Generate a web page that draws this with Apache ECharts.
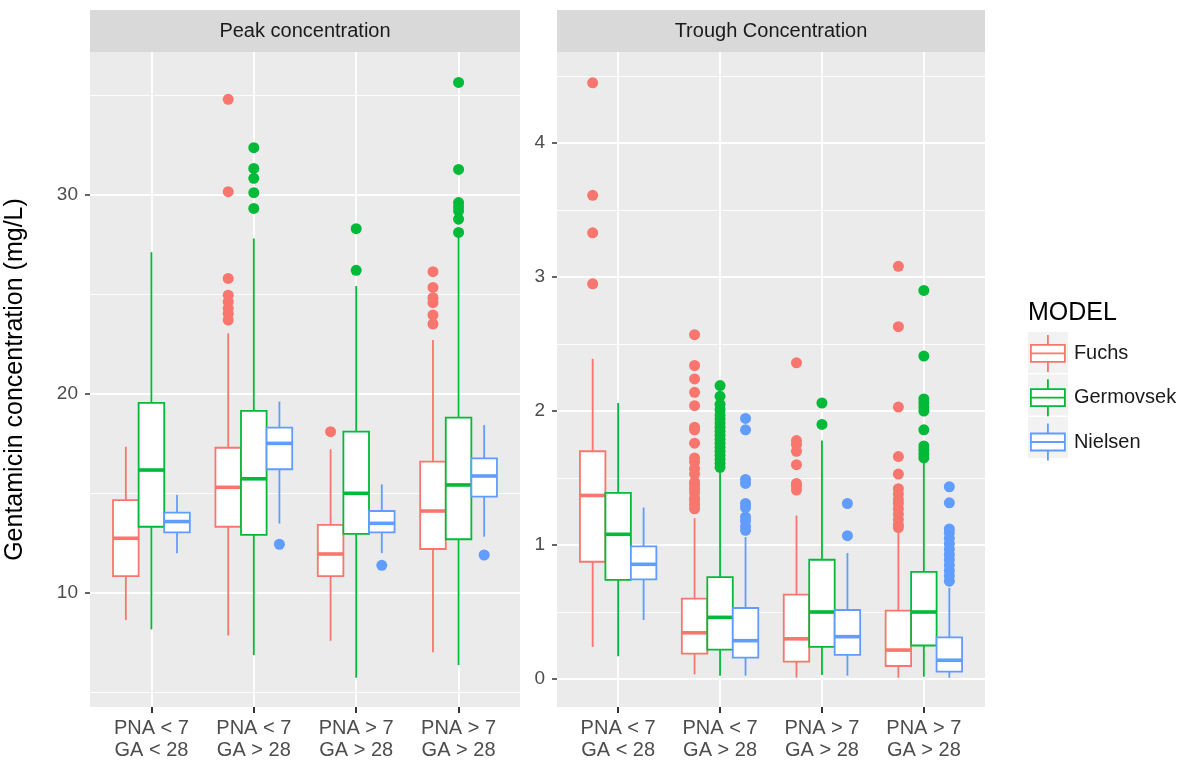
<!DOCTYPE html>
<html>
<head>
<meta charset="utf-8">
<script src="https://cdn.jsdelivr.net/npm/echarts@6/dist/echarts.min.js"></script>
<style>
  html, body { margin: 0; padding: 0; background: #fff; }
  #chart { width: 1193px; height: 765px; }
</style>
</head>
<body>
<div id="chart"></div>
<script>
// ---------------- DATA ----------------
const categories = ['PNA < 7\nGA < 28', 'PNA < 7\nGA > 28', 'PNA > 7\nGA > 28', 'PNA > 7\nGA > 28'];
const models = ['Fuchs', 'Germovsek', 'Nielsen'];
const panelTitles = ['Peak concentration', 'Trough Concentration'];
const yAxisTitle = 'Gentamicin concentration (mg/L)';
const legendTitle = 'MODEL';
const categoryTicks = [1, 2, 3, 4];
const peakTicks = [10, 20, 30];
const peakMinorTicks = [5, 15, 25, 35];
const troughTicks = [0, 1, 2, 3, 4];
const troughMinorTicks = [0.5, 1.5, 2.5, 3.5, 4.5];

// box stats per category: [lower whisker, Q1, median, Q3, upper whisker]
const peakFuchs = [[8.64, 10.85, 12.75, 14.67, 17.35], [7.86, 13.33, 15.31, 17.30, 23.05], [7.60, 10.85, 11.96, 13.42, 17.22], [7.02, 12.21, 14.12, 16.60, 22.71]];
const peakGermovsek = [[8.17, 13.33, 16.18, 19.56, 27.13], [6.88, 12.92, 15.74, 19.15, 27.82], [5.74, 12.97, 15.01, 18.11, 25.43], [6.38, 12.70, 15.43, 18.81, 27.90]];
const peakNielsen = [[12.00, 13.05, 13.59, 14.04, 14.92], [13.49, 16.22, 17.52, 18.31, 19.62], [12.00, 13.05, 13.50, 14.12, 15.46], [12.83, 14.84, 15.88, 16.77, 18.44]];

const peakFuchsOutliers = [[], [34.81, 30.17, 25.81, 24.97, 24.64, 24.31, 24.05, 23.72], [18.11], [26.15, 25.36, 24.84, 24.59, 23.97, 23.52]];
const peakGermovsekOutliers = [[], [32.38, 31.34, 30.84, 30.12, 29.33], [28.31, 26.22], [35.66, 31.29, 29.62, 29.41, 29.20, 28.79, 28.12]];
const peakNielsenOutliers = [[], [12.45], [11.39], [11.91]];

const troughFuchs = [[0.24, 0.875, 1.37, 1.70, 2.39], [0.035, 0.19, 0.345, 0.60, 1.20], [0.01, 0.13, 0.30, 0.63, 1.22], [0.01, 0.097, 0.216, 0.51, 1.09]];
const troughGermovsek = [[0.17, 0.74, 1.08, 1.39, 2.06], [0.025, 0.22, 0.46, 0.76, 1.56], [0.03, 0.24, 0.50, 0.89, 1.78], [0.017, 0.25, 0.50, 0.80, 1.62]];
const troughNielsen = [[0.44, 0.744, 0.856, 0.99, 1.28], [0.025, 0.16, 0.286, 0.53, 1.06], [0.025, 0.18, 0.316, 0.515, 0.94], [0.01, 0.055, 0.14, 0.31, 0.68]];

const troughFuchsOutliers = [[4.45, 3.61, 3.33, 2.95], [2.57, 2.34, 2.24, 2.14, 2.04, 1.88, 1.86, 1.76, 1.65, 1.62, 1.57, 1.53, 1.47, 1.45, 1.42, 1.39, 1.35, 1.33, 1.30, 1.27], [2.36, 1.78, 1.75, 1.70, 1.60, 1.46, 1.44, 1.41], [3.08, 2.63, 2.03, 1.66, 1.53, 1.42, 1.38, 1.34, 1.31, 1.27, 1.23, 1.19, 1.15, 1.13]];
const troughGermovsekOutliers = [[], [2.19, 2.11, 2.05, 2.01, 1.97, 1.94, 1.91, 1.88, 1.85, 1.82, 1.79, 1.76, 1.73, 1.70, 1.67, 1.64, 1.61, 1.58], [2.06, 1.90], [2.90, 2.41, 2.09, 2.06, 2.03, 2.00, 1.86, 1.74, 1.71, 1.68, 1.65]];
const troughNielsenOutliers = [[], [1.945, 1.86, 1.49, 1.46, 1.31, 1.28, 1.21, 1.18, 1.14, 1.11], [1.31, 1.07], [1.435, 1.315, 1.12, 1.09, 1.05, 1.01, 0.97, 0.93, 0.89, 0.85, 0.81, 0.77, 0.73]];

// ---------------- STYLE ----------------
const colors = ['#F8766D', '#00BA38', '#619CFF'];
const dodge = [-0.25, 0, 0.25];
const BOX_W = 0.25;
const FONT = '"Liberation Sans", Arial, Helvetica, sans-serif';

const panels = [
  { boxes: [peakFuchs, peakGermovsek, peakNielsen], outliers: [peakFuchsOutliers, peakGermovsekOutliers, peakNielsenOutliers], ticks: peakTicks, minor: peakMinorTicks, min: 4.27, max: 37.19 },
  { boxes: [troughFuchs, troughGermovsek, troughNielsen], outliers: [troughFuchsOutliers, troughGermovsekOutliers, troughNielsenOutliers], ticks: troughTicks, minor: troughMinorTicks, min: -0.209, max: 4.68 }
];

const gridDefs = [
  { left: 90, top: 52, width: 430, height: 655 },
  { left: 557, top: 52, width: 428, height: 655 }
];

function renderBox(params, api) {
  const x = api.value(0);
  const pLo = api.coord([x, api.value(1)]);
  const pQ1 = api.coord([x, api.value(2)]);
  const pMed = api.coord([x, api.value(3)]);
  const pQ3 = api.coord([x, api.value(4)]);
  const pHi = api.coord([x, api.value(5)]);
  const hw = api.size([BOX_W, 0])[0] / 2;
  const color = api.visual('color');
  return {
    type: 'group',
    children: [
      { type: 'line', shape: { x1: pHi[0], y1: pHi[1], x2: pQ3[0], y2: pQ3[1] }, style: { stroke: color, lineWidth: 1.8 } },
      { type: 'line', shape: { x1: pLo[0], y1: pLo[1], x2: pQ1[0], y2: pQ1[1] }, style: { stroke: color, lineWidth: 1.8 } },
      { type: 'rect', shape: { x: pQ3[0] - hw, y: pQ3[1], width: 2 * hw, height: pQ1[1] - pQ3[1] }, style: { fill: '#FFFFFF', stroke: color, lineWidth: 1.8 } },
      { type: 'line', shape: { x1: pMed[0] - hw, y1: pMed[1], x2: pMed[0] + hw, y2: pMed[1] }, style: { stroke: color, lineWidth: 3.6 } }
    ]
  };
}

const grid = gridDefs.map(g => Object.assign({ show: true, backgroundColor: '#EBEBEB', borderWidth: 0 }, g));

const xAxis = gridDefs.map((g, i) => ({
  type: 'value', gridIndex: i, min: 0.4, max: 4.6, position: 'bottom',
  axisLine: { show: false, onZero: false },
  axisTick: { show: true, length: 6, lineStyle: { color: '#333333', width: 2 }, customValues: categoryTicks },
  axisLabel: { show: true, customValues: categoryTicks, formatter: v => categories[Math.round(v) - 1] || '', color: '#4D4D4D', fontSize: 20, lineHeight: 22, fontFamily: FONT, margin: 10 },
  splitLine: { show: true, lineStyle: { color: '#FFFFFF', width: 1.8 } }
}));

const yAxis = [];
panels.forEach((p, i) => {
  // major
  yAxis.push({
    type: 'value', gridIndex: i, min: p.min, max: p.max, position: 'left',
    name: i === 0 ? yAxisTitle : '', nameLocation: 'middle', nameGap: 62,
    nameTextStyle: { fontSize: 25, color: '#000000', fontFamily: FONT },
    axisLine: { show: false, onZero: false },
    axisTick: { show: true, length: 5, lineStyle: { color: '#333333', width: 1.5 }, customValues: p.ticks },
    axisLabel: { show: true, customValues: p.ticks, color: '#4D4D4D', fontSize: 19, fontFamily: FONT, margin: 12, formatter: v => String(Math.round(v)) },
    splitLine: { show: true, lineStyle: { color: '#FFFFFF', width: 1.8 } }
  });
  // minor
  yAxis.push({
    type: 'value', gridIndex: i, min: p.min, max: p.max, position: 'left',
    axisLine: { show: false, onZero: false },
    axisTick: { show: false, customValues: p.minor },
    axisLabel: { show: false, customValues: p.minor },
    splitLine: { show: true, lineStyle: { color: '#FFFFFF', width: 0.9 } }
  });
});

const series = [];
panels.forEach((p, pi) => {
  models.forEach((m, mi) => {
    const boxData = p.boxes[mi].map((s, ci) => [ci + 1 + dodge[mi]].concat(s));
    series.push({
      type: 'custom', name: m, xAxisIndex: pi, yAxisIndex: pi * 2,
      color: colors[mi], renderItem: renderBox,
      encode: { x: 0, y: [1, 2, 3, 4, 5] },
      data: boxData, clip: false
    });
    const outData = [];
    p.outliers[mi].forEach((vals, ci) => vals.forEach(v => outData.push([ci + 1 + dodge[mi], v])));
    series.push({
      type: 'scatter', name: m, xAxisIndex: pi, yAxisIndex: pi * 2,
      symbol: 'circle', symbolSize: 11,
      itemStyle: { color: colors[mi], opacity: 1 },
      data: outData
    });
  });
});

const legendIcon = 'path://M0,10L34,10L34,27L0,27Z M0,18.5L34,18.5 M17,0L17,10 M17,27L17,37';

const graphic = [];
gridDefs.forEach((g, i) => {
  graphic.push({ type: 'rect', shape: { x: g.left, y: 10, width: g.width, height: 42 }, style: { fill: '#D9D9D9' }, z: 0 });
  graphic.push({ type: 'text', x: g.left + g.width / 2, y: 31, style: { text: panelTitles[i], fill: '#1A1A1A', fontSize: 20, fontFamily: FONT, textAlign: 'center', textVerticalAlign: 'middle' }, z: 1 });
});
graphic.push({ type: 'text', x: 1028, y: 313, style: { text: legendTitle, fill: '#000000', fontSize: 25, fontFamily: FONT, textAlign: 'left', textVerticalAlign: 'middle' }, z: 1 });
[332, 374.5, 417].forEach(y => {
  graphic.push({ type: 'rect', shape: { x: 1028, y: y, width: 40, height: 41 }, style: { fill: '#F2F2F2' }, z: 0 });
});

const option = {
  animation: false,
  backgroundColor: '#FFFFFF',
  grid: grid,
  xAxis: xAxis,
  yAxis: yAxis,
  legend: {
    orient: 'vertical', left: 1025, top: 329,
    itemWidth: 34, itemHeight: 37, itemGap: 5.5,
    textStyle: { fontSize: 20, color: '#1A1A1A', fontFamily: FONT, padding: [0, 0, 0, 4] },
    selectedMode: false,
    data: models.map((m, i) => ({ name: m, icon: legendIcon, itemStyle: { color: '#FFFFFF', borderColor: colors[i], borderWidth: 1.8 } })),
    z: 5
  },
  graphic: graphic,
  series: series
};

const chart = echarts.init(document.getElementById('chart'), null, { renderer: 'canvas' });
chart.setOption(option);
</script>
</body>
</html>
